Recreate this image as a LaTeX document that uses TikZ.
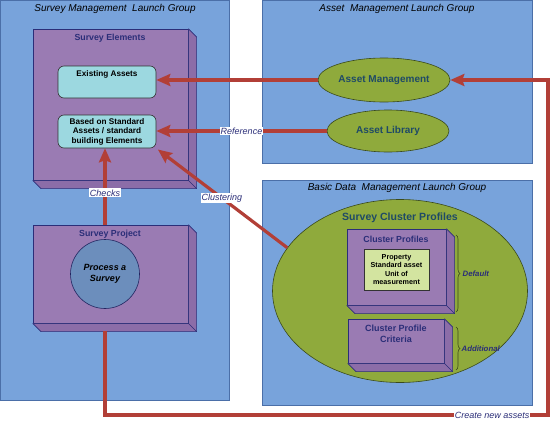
\documentclass[tikz,border=0pt]{standalone}
\usepackage{fontspec}
\setmainfont{Liberation Sans}
\usetikzlibrary{arrows.meta,decorations.pathreplacing,shapes.geometric}
\definecolor{panelblue}{HTML}{78A3DB}
\definecolor{panelline}{HTML}{4B6FA8}
\definecolor{purp}{HTML}{9A7BB3}
\definecolor{purpside}{HTML}{8C6DA8}
\definecolor{navy}{HTML}{2B2E78}
\definecolor{cyanbox}{HTML}{9CD8E0}
\definecolor{grn}{HTML}{8FAA3C}
\definecolor{grnline}{HTML}{3A4A1A}
\definecolor{ltgrn}{HTML}{D3E4A0}
\definecolor{circ}{HTML}{6C8EBC}
\definecolor{arrred}{HTML}{B23F37}
\definecolor{teal}{HTML}{1F4A66}
\newcommand{\extrudebox}[2]{%
  \draw[fill=purpside,draw=navy,line width=0.6pt] (#1.north east) -- ++(#2,#2) -- ([shift={(#2,#2)}]#1.south east) -- ([shift={(#2,#2)}]#1.south west) -- (#1.south west) -- (#1.south east) -- cycle;
  \draw[navy,line width=0.6pt] (#1.south east) -- ++(#2,#2);}
\begin{document}
\begin{tikzpicture}[x=1pt,y=-1pt,
  panel/.style={draw=panelline,fill=panelblue,line width=0.6pt,anchor=north west,inner sep=0pt},
  ptitle/.style={font=\fontsize{10}{12}\selectfont\itshape,text=black},
  cube/.style={draw=navy,fill=purp,line width=0.6pt,anchor=north west,inner sep=0pt},
  cubetitle/.style={font=\fontsize{8.8}{10.5}\selectfont\bfseries,text=navy},
  rbox/.style={draw=black!80,fill=cyanbox,rounded corners=6pt,line width=0.6pt,minimum width=98pt,align=center,font=\fontsize{8.2}{9.6}\selectfont\bfseries,inner sep=1pt},
  oval/.style={ellipse,draw=grnline,fill=grn,line width=0.6pt,inner sep=0pt,font=\fontsize{10}{12}\selectfont\bfseries,text=teal},
  lbl/.style={fill=white,inner sep=1pt,font=\fontsize{9}{10}\selectfont\itshape,text=navy},
  side/.style={font=\fontsize{7.8}{9}\selectfont\bfseries\itshape,text=navy},
  arr/.style={draw=arrred,line width=3.2pt,-{Stealth[length=14pt,width=12pt,inset=2pt]}},
  brc/.style={draw=grnline,line width=0.6pt,decorate,decoration={brace,amplitude=4pt}}]
\useasboundingbox (0,0) rectangle (552,423);
% panels
\node[panel,minimum width=229pt,minimum height=400pt] (smg) at (0,0) {};
\node[ptitle] (smgt) at (115,9) {Survey Management\ \ Launch Group};
\node[panel,minimum width=270pt,minimum height=163pt] (amg) at (262,0) {};
\node[ptitle] (amgt) at (397,9) {Asset\ \ Management Launch Group};
\node[panel,minimum width=270pt,minimum height=225pt] (bdg) at (262,180) {};
\node[ptitle] (bdgt) at (397,188) {Basic Data\ \ Management Launch Group};
% survey elements
\node[cube,minimum width=155pt,minimum height=151pt] (se) at (33,29) {};
\extrudebox{se}{8}
\node[cubetitle] (set) at (110,38) {Survey Elements};
\node[rbox,minimum height=32pt] (ea) at (107,82) {Existing Assets\\[8pt]};
\node[rbox,minimum height=33pt] (bs) at (107,131.5) {Based on Standard\\Assets / standard\\building Elements};
% survey project
\node[cube,minimum width=155pt,minimum height=98pt] (sp) at (33,225) {};
\extrudebox{sp}{8}
\node[cubetitle] (spt) at (110,234) {Survey Project};
\node[circle,draw=navy!80!black,fill=circ,line width=0.6pt,minimum size=69pt,inner sep=0pt,align=center,font=\fontsize{9}{11}\selectfont\bfseries\itshape] (pas) at (105,274) {Process a\\Survey};
\coordinate (spb) at (105,331);
% asset management
\node[oval,minimum width=132pt,minimum height=44pt] (am) at (384,80) {Asset Management};
\node[oval,minimum width=122pt,minimum height=42pt] (al) at (388,131) {Asset Library};
% cluster profiles
\node[oval,minimum width=255pt,minimum height=183pt] (scp) at (400,291) {};
\node[font=\fontsize{10.5}{12}\selectfont\bfseries,text=teal] (scpt) at (400,218) {Survey Cluster Profiles};
\node[cube,minimum width=99pt,minimum height=76pt] (cp) at (347,229) {};
\extrudebox{cp}{8}
\node[cubetitle] (cpt) at (396,239) {Cluster Profiles};
\node[draw=black!80,fill=ltgrn,line width=0.6pt,minimum width=65pt,minimum height=41pt,inner sep=0pt,align=center,font=\fontsize{7.2}{8.2}\selectfont\bfseries] (prop) at (396.5,269.5) {Property\\Standard asset\\Unit of\\measurement};
\node[cube,minimum width=96pt,minimum height=44pt] (cc) at (348,319) {};
\extrudebox{cc}{8}
\node[cubetitle,align=center,font=\fontsize{9}{11}\selectfont\bfseries] (cct) at (396,334) {Cluster Profile\\Criteria};
\draw[brc] (456,235) -- (456,312) node[midway,right=3pt,side] (dft) {Default};
\draw[brc] (456,327) -- (456,370) node[midway,right=2pt,side] (add) {Additional};
% connectors
\draw[arr] (am.west) -- (am.west -| ea.east);
\draw[arr] (al.west) -- node[lbl] (ref) {Reference} (al.west -| bs.east);
\draw[arr] (pas.north |- sp.north) -- node[lbl,pos=0.42] (chk) {Checks} (pas.north |- bs.south);
\draw[arr,shorten >=2pt] (scp.159) -- node[lbl,pos=0.5] (clu) {Clustering} (bs.south east);
\draw[arr] (spb) -- (105,415) -- node[lbl,pos=0.874] (cna) {Create new assets} (548,415) -- (548,80) -- (am.east);
\end{tikzpicture}
\end{document}
